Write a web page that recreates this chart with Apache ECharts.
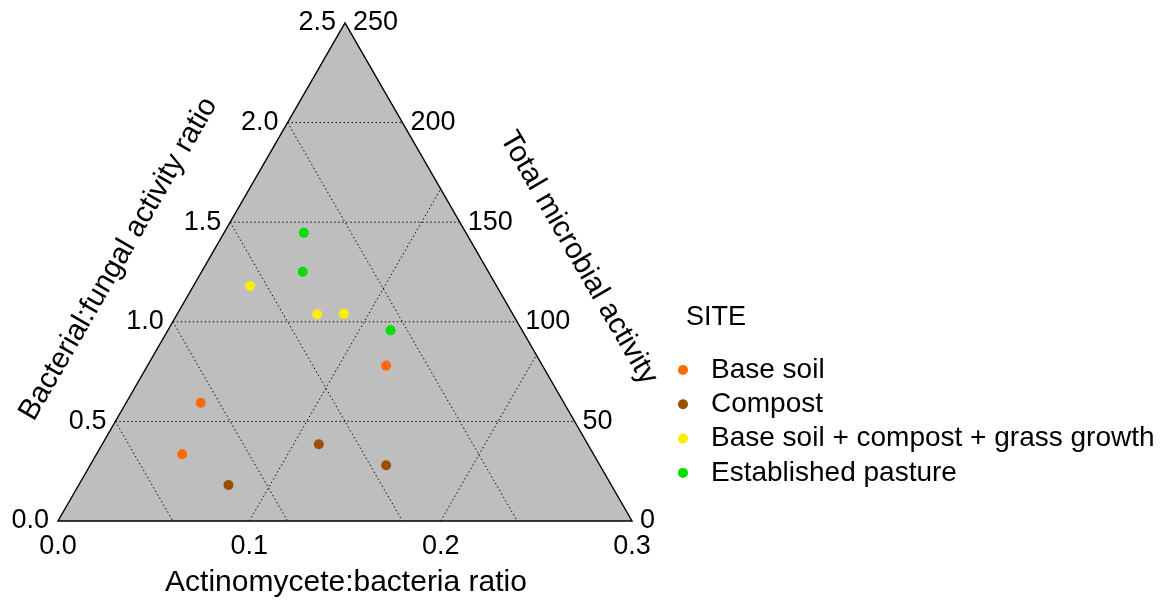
<!DOCTYPE html>
<html><head><meta charset="utf-8">
<script src="https://cdn.jsdelivr.net/npm/echarts@6/dist/echarts.min.js"></script>
<style>html,body{margin:0;padding:0;background:#fff}#c{width:1167px;height:601px}</style>
</head><body><div id="c"></div>
<script>
// ---- data ----
const xTicks = [0.0, 0.1, 0.2, 0.3];
const xTickLabels = ['0.0', '0.1', '0.2', '0.3'];
const leftTicks = [0.0, 0.5, 1.0, 1.5, 2.0, 2.5];
const leftTickLabels = ['0.0', '0.5', '1.0', '1.5', '2.0', '2.5'];
const rightTicks = [0, 50, 100, 150, 200, 250];
const rightTickLabels = ['0', '50', '100', '150', '200', '250'];
const xTitle = 'Actinomycete:bacteria ratio';
const leftTitle = 'Bacterial:fungal activity ratio';
const rightTitle = 'Total microbial activity';
const legendTitle = 'SITE';
const sites = ['Base soil', 'Compost', 'Base soil + compost + grass growth', 'Established pasture'];
const siteColors = ['#ff6a00', '#9a4e00', '#ffee00', '#00dd00'];
// [actinomycete:bacteria ratio, bacterial:fungal activity ratio]
const baseSoil = [[0.1715, 0.780], [0.0746, 0.594], [0.0649, 0.335]];
const compost = [[0.0891, 0.181], [0.1363, 0.385], [0.1715, 0.280]];
const grassGrowth = [[0.1004, 1.180], [0.1355, 1.038], [0.1494, 1.041]];
const pasture = [[0.1285, 1.447], [0.1279, 1.251], [0.1738, 0.957]];
const siteData = [baseSoil, compost, grassGrowth, pasture];

const FONT = 'Liberation Sans, Arial, sans-serif';
const xMin = xTicks[0], xMax = xTicks[xTicks.length - 1];
const yMax = leftTicks[leftTicks.length - 1];
const rMax = rightTicks[rightTicks.length - 1];
const xMid = (xMin + xMax) / 2;
const slope = (xMid - xMin) / yMax; // x shift per unit of y along the left edge

function renderFrame(params, api) {
  const P = (x, y) => api.coord([x, y]);
  const leftAt = y => xMin + slope * y;
  const rightAt = y => xMax - slope * y;
  const A = P(xMin, 0), B = P(xMax, 0), C = P(xMid, yMax);
  const ch = [];
  ch.push({ type: 'polygon', shape: { points: [A, B, C] }, style: { fill: '#bebebe', stroke: null } });
  const dot = { stroke: '#000', lineWidth: 1, lineDash: [1.4, 2.6], fill: null };
  // horizontal lines
  leftTicks.slice(1, -1).forEach(v => {
    const p1 = P(leftAt(v), v), p2 = P(rightAt(v), v);
    ch.push({ type: 'line', shape: { x1: p1[0], y1: p1[1], x2: p2[0], y2: p2[1] }, style: dot });
  });
  // lines parallel to right edge from left edge ticks down to base
  leftTicks.slice(1, -1).forEach(v => {
    const p1 = P(leftAt(v), v), p2 = P(leftAt(v) + slope * v, 0);
    ch.push({ type: 'line', shape: { x1: p1[0], y1: p1[1], x2: p2[0], y2: p2[1] }, style: dot });
  });
  // lines parallel to left edge from base ticks up to right edge
  xTicks.slice(1, -1).forEach(x0 => {
    const yy = (xMax - x0) / (2 * slope);
    const p1 = P(x0, 0), p2 = P(x0 + slope * yy, yy);
    ch.push({ type: 'line', shape: { x1: p1[0], y1: p1[1], x2: p2[0], y2: p2[1] }, style: dot });
  });
  ch.push({ type: 'polygon', shape: { points: [A, B, C] }, style: { fill: null, stroke: '#000', lineWidth: 1.4 } });
  const txt = (x, y, text, align, va, size, rot) => ({
    type: 'text', x: x, y: y, rotation: rot || 0,
    style: { text: text, fill: '#000', fontSize: size, fontFamily: FONT, align: align, verticalAlign: va }
  });
  leftTicks.forEach((v, i) => {
    const p = P(leftAt(v), v);
    ch.push(txt(p[0] - 9, p[1], leftTickLabels[i], 'right', 'middle', 27));
  });
  rightTicks.forEach((r, i) => {
    const v = r / rMax * yMax;
    const p = P(rightAt(v), v);
    ch.push(txt(p[0] + 8, p[1], rightTickLabels[i], 'left', 'middle', 27));
  });
  xTicks.forEach((x, i) => {
    const p = P(x, 0);
    ch.push(txt(p[0], p[1] + 26, xTickLabels[i], 'center', 'middle', 27));
  });
  const bm = P(xMid, 0);
  ch.push(txt(bm[0] + 1, bm[1] + 62, xTitle, 'center', 'middle', 30));
  const lm = P(leftAt(yMax / 2), yMax / 2);
  ch.push(txt(lm[0] - 83, lm[1] - 13, leftTitle, 'center', 'middle', 29.5, Math.PI / 3));
  const rm = P(rightAt(yMax / 2), yMax / 2);
  ch.push(txt(rm[0] + 90, rm[1] - 14, rightTitle, 'center', 'middle', 29.5, -Math.PI / 3));
  return { type: 'group', children: ch };
}

const chart = echarts.init(document.getElementById('c'), null, { renderer: 'canvas' });
const series = [{
  type: 'custom', renderItem: renderFrame, data: [[0, 0]], silent: true, z: 1, clip: false
}];
sites.forEach((s, i) => {
  series.push({
    type: 'scatter', name: s, data: siteData[i], symbol: 'circle', symbolSize: 10, z: 5,
    itemStyle: { color: siteColors[i], opacity: 1 }, silent: true
  });
});
chart.setOption({
  animation: false,
  color: siteColors,
  grid: { left: 58, top: 23, width: 574, height: 498 },
  xAxis: { type: 'value', min: xMin, max: xMax, show: false },
  yAxis: { type: 'value', min: 0, max: yMax, show: false },
  title: { text: legendTitle, left: 686, top: 304, padding: 0,
    textStyle: { fontSize: 27, fontWeight: 'normal', fontFamily: FONT, color: '#000' } },
  legend: {
    orient: 'vertical', left: 678, top: 356, padding: 0, itemGap: 6.3,
    itemWidth: 46, itemHeight: 10, icon: 'circle', data: sites, selectedMode: false,
    textStyle: { fontSize: 28, fontFamily: FONT, color: '#000' }
  },
  series: series
});
</script></body></html>
